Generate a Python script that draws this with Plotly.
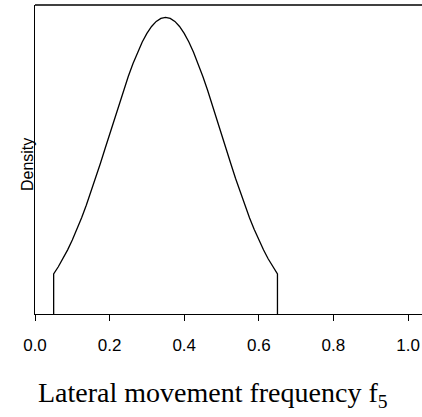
import plotly.graph_objects as go

# Density curve (relative height, peak = 1)
x_vals = [0.05, 0.05, 0.0625, 0.075, 0.0875, 0.10, 0.1125, 0.125, 0.1375, 0.15, 0.1625,
          0.175, 0.1875, 0.20, 0.2125, 0.225, 0.2375, 0.25, 0.2625, 0.275, 0.2875,
          0.30, 0.3125, 0.325, 0.3375, 0.35, 0.3625, 0.375, 0.3875, 0.40, 0.4125,
          0.425, 0.4375, 0.45, 0.4625, 0.475, 0.4875, 0.50, 0.5125, 0.525, 0.5375,
          0.55, 0.5625, 0.575, 0.5875, 0.60, 0.6125, 0.625, 0.6375, 0.65, 0.65]
density = [0.0, 0.1353, 0.1593, 0.1863, 0.2163, 0.2494, 0.2855, 0.3247, 0.3666, 0.4111, 0.4578,
           0.5063, 0.5561, 0.6065, 0.6570, 0.7067, 0.7548, 0.8007, 0.8435, 0.8825, 0.9169,
           0.9460, 0.9692, 0.9862, 0.9965, 1.0000, 0.9965, 0.9862, 0.9692, 0.9460, 0.9169,
           0.8825, 0.8435, 0.8007, 0.7548, 0.7067, 0.6570, 0.6065, 0.5561, 0.5063, 0.4578,
           0.4111, 0.3666, 0.3247, 0.2855, 0.2494, 0.2163, 0.1863, 0.1593, 0.1353, 0.0]

x_ticks = [0.0, 0.2, 0.4, 0.6, 0.8, 1.0]
x_tick_labels = ["0.0", "0.2", "0.4", "0.6", "0.8", "1.0"]

fig = go.Figure()
fig.add_trace(go.Scatter(x=x_vals, y=density, mode="lines",
                         line=dict(color="black", width=1.3), hoverinfo="skip",
                         showlegend=False))

fig.update_layout(
    width=422, height=417,
    margin=dict(l=35, r=0, t=5, b=103),
    plot_bgcolor="white", paper_bgcolor="white",
    xaxis=dict(range=[0, 1.0375], showgrid=False, zeroline=False,
               showline=True, linecolor="black", linewidth=1.3,
               ticks="outside", ticklen=6, tickwidth=1.3, tickcolor="black",
               tickvals=x_ticks, ticktext=x_tick_labels, ticklabelstandoff=9,
               tickfont=dict(family="Liberation Sans, Arial", size=17, color="black")),
    yaxis=dict(range=[0, 1.0415], showgrid=False, zeroline=False,
               showline=True, linecolor="black", linewidth=1.3,
               showticklabels=False, ticks=""),
    shapes=[dict(type="line", xref="paper", yref="paper", x0=0, x1=1, y0=1, y1=1,
                 line=dict(color="black", width=1.3))],
    annotations=[
        dict(text="Density", xref="paper", yref="paper", x=0, y=0.482,
             xanchor="center", yanchor="middle", xshift=-8, textangle=-90,
             showarrow=False,
             font=dict(family="Liberation Sans, Arial", size=16, color="black")),
        dict(text="Lateral movement frequency f<sub>5</sub>", xref="paper", yref="paper",
             x=0.46, y=0, xanchor="center", yanchor="middle", yshift=-80,
             showarrow=False,
             font=dict(family="Liberation Serif, Times New Roman", size=28, color="black")),
    ],
)

fig.write_html("out.html")
